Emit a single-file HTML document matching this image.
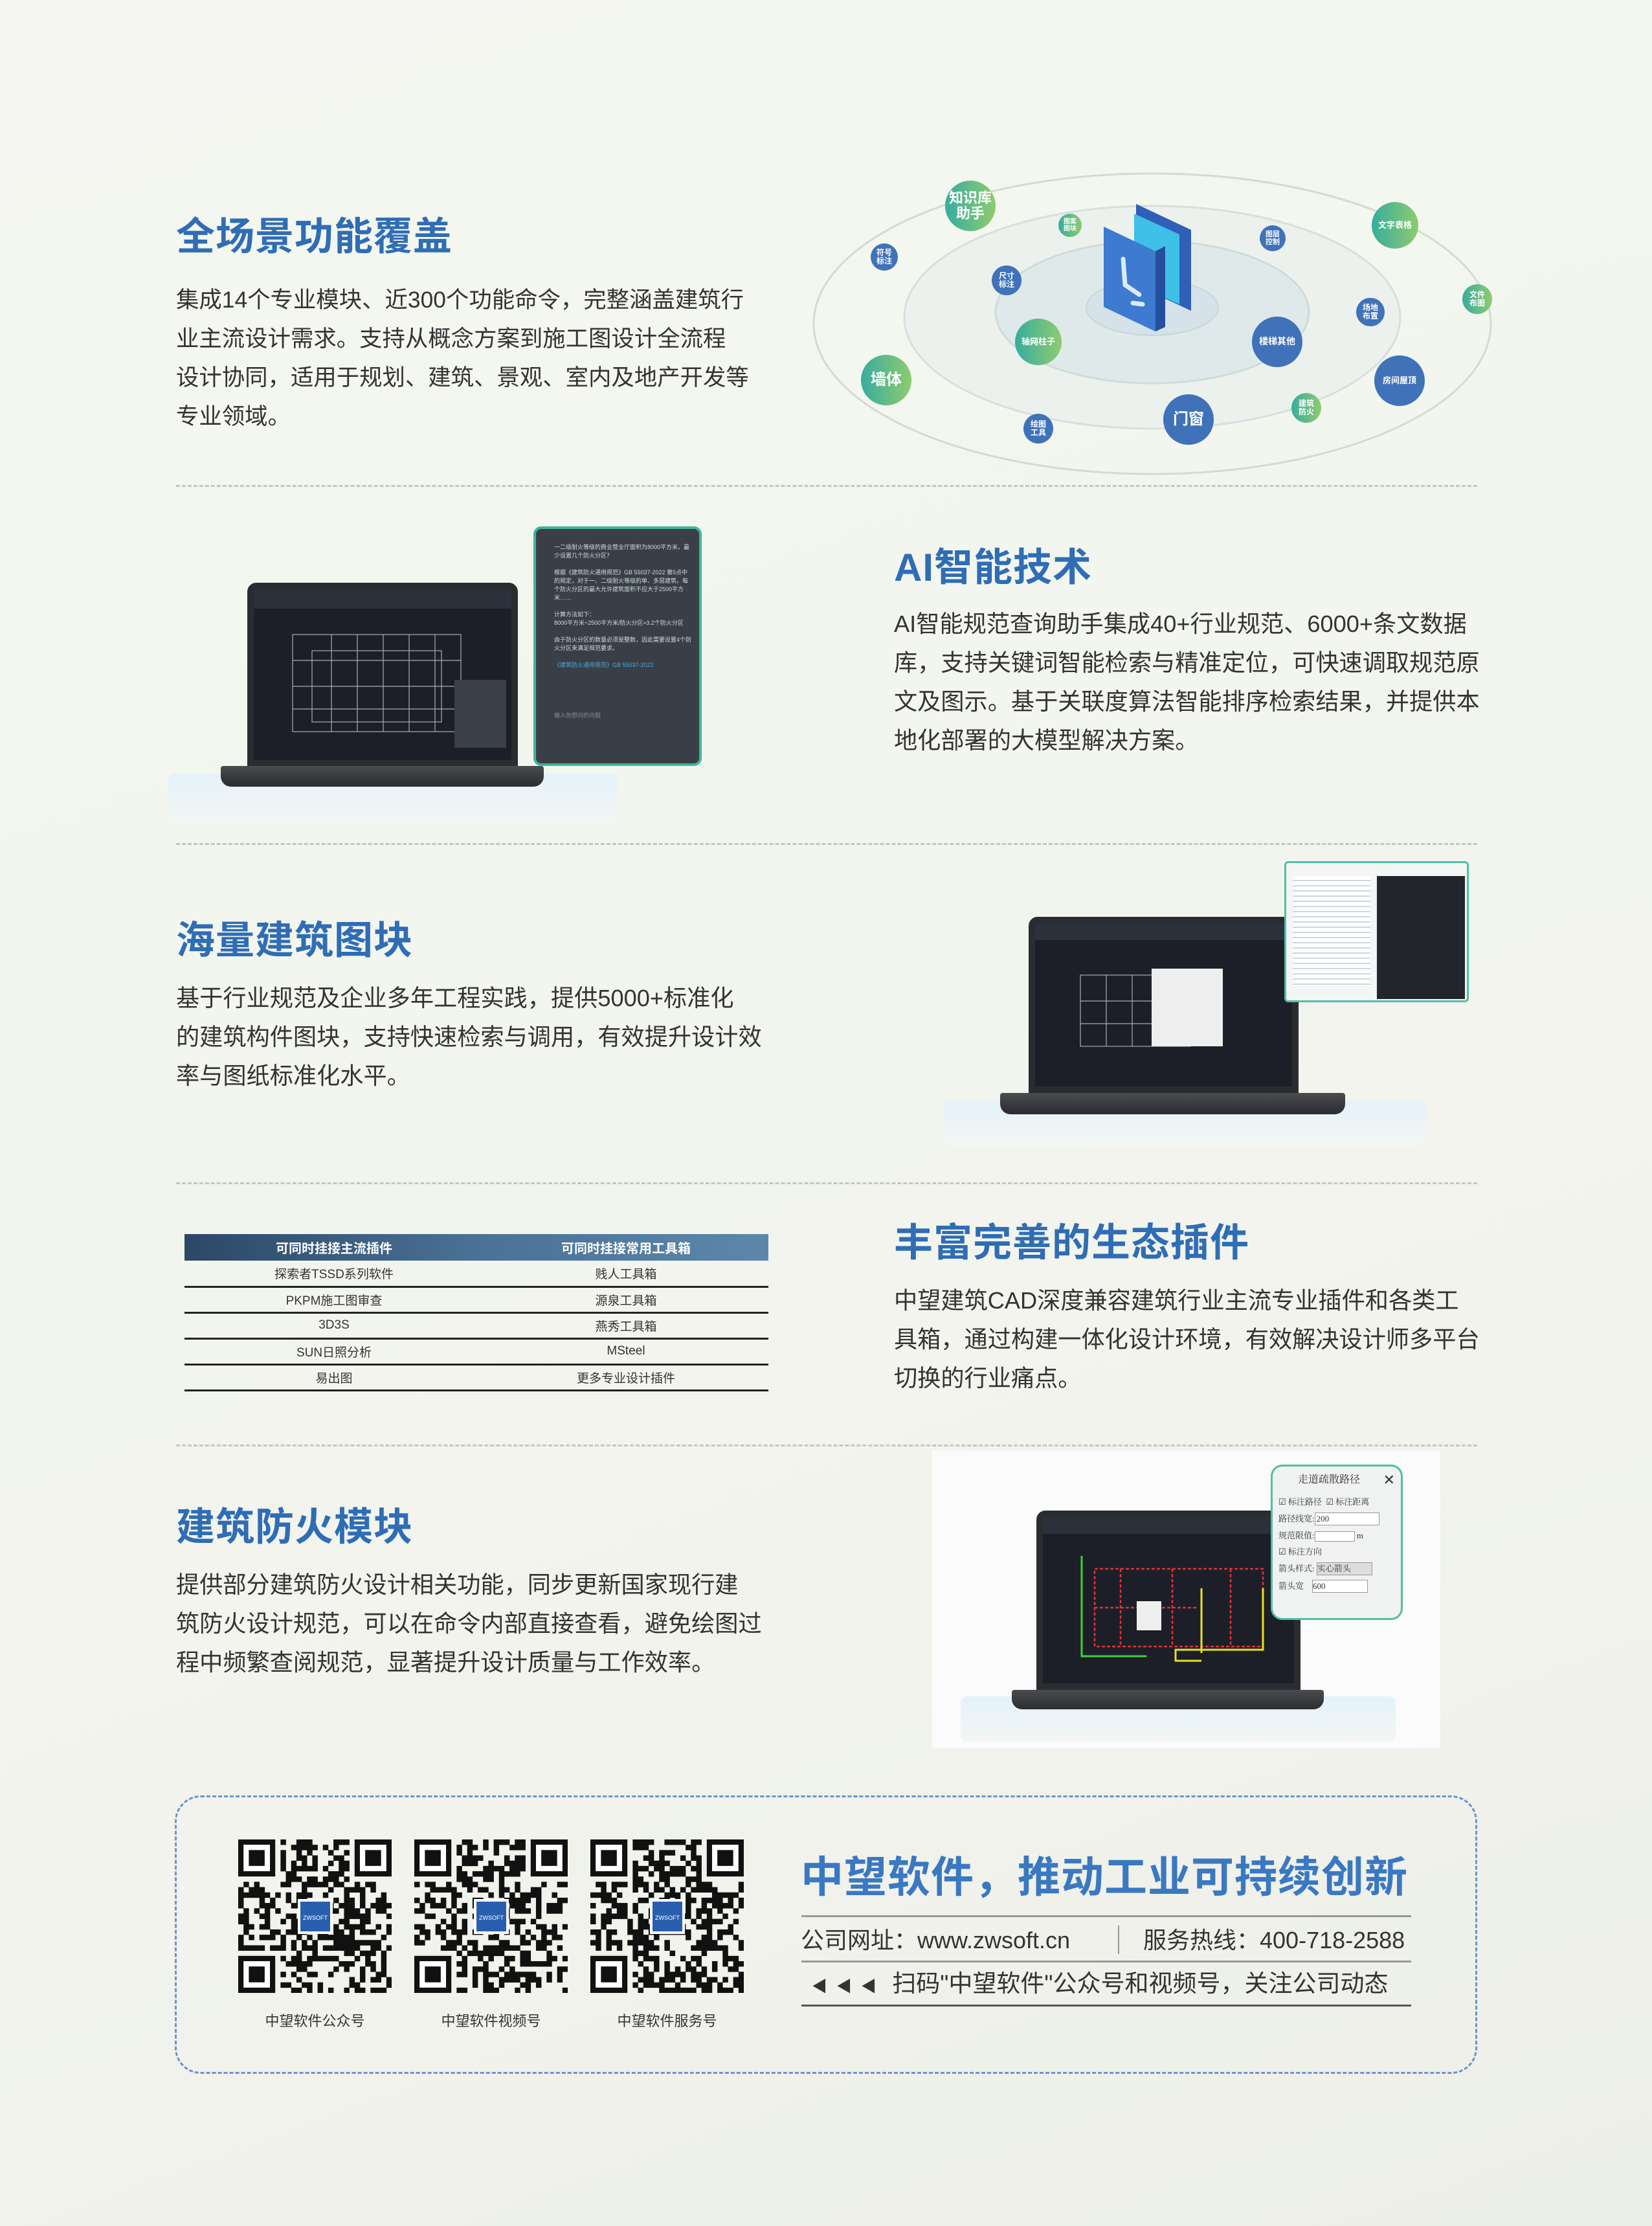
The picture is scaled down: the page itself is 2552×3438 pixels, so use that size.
<!DOCTYPE html>
<html><head><meta charset="utf-8">
<style>
*{margin:0;padding:0;box-sizing:border-box}
body{width:2552px;height:3438px;position:relative;overflow:hidden;font-family:"Liberation Sans","Noto Sans CJK SC",sans-serif;
background:linear-gradient(160deg,#f5f6f1 0%,#f3f6ef 35%,#f1f3ec 70%,#eceee8 100%);}
.a{position:absolute}
.t{position:absolute;color:#2f6db5;font-weight:bold;font-size:60px;line-height:1;white-space:nowrap;letter-spacing:1px}
.p{position:absolute;color:#333;font-size:36.2px;line-height:60px;white-space:nowrap}
.dash{position:absolute;left:272px;width:2010px;height:0;border-top:3px dashed #c4c7c2}
.b{position:absolute;border-radius:50%;color:#fff;display:flex;align-items:center;justify-content:center;text-align:center;font-weight:bold;line-height:1.1}
.bl{background:#3f72b9}
.gr{background:linear-gradient(90deg,#37ad9e,#8ecb6f)}
.scr{position:absolute;background:#1c1f27;border:10px solid #2a2c30;border-radius:14px 14px 0 0}
.base{position:absolute;background:linear-gradient(#4a4c50,#2b2c2f);border-radius:4px 4px 16px 16px}
.plat{position:absolute;background:linear-gradient(#e4f2fa,#f3f6f4);border-radius:10px}
table{border-collapse:collapse}
.dl{margin-top:7px;line-height:18px}
</style></head><body>

<!-- Section 1 -->
<div class="t" style="left:272px;top:336px">全场景功能覆盖</div>
<div class="p" style="left:272px;top:433px;font-size:35.4px">集成14个专业模块、近300个功能命令，完整涵盖建筑行<br>业主流设计需求。支持从概念方案到施工图设计全流程<br>设计协同，适用于规划、建筑、景观、室内及地产开发等<br>专业领域。</div>

<svg class="a" style="left:1240px;top:250px" width="1100" height="500" viewBox="1240 250 1100 500">
<ellipse cx="1780" cy="500" rx="523" ry="232" fill="none" stroke="#d3dbd6" stroke-width="3"/>
<ellipse cx="1780" cy="490" rx="383" ry="172" fill="#ecf1ee" stroke="#d6e0dc" stroke-width="3"/>
<ellipse cx="1780" cy="482" rx="242" ry="110" fill="#e0e9ea" stroke="#cfdcd8" stroke-width="3"/>
<ellipse cx="1780" cy="475" rx="102" ry="43" fill="#d5e2ea" stroke="#c6d8d4" stroke-width="2"/>
<polygon points="1755,315 1840,355 1840,480 1755,440" fill="#2f5fb7"/>
<polygon points="1752,330 1822,362 1822,470 1752,438" fill="#3ec0e8"/>
<polygon points="1705,350 1785,388 1785,512 1705,474" fill="#3d7ad0"/>
<polygon points="1785,388 1800,380 1800,505 1785,512" fill="#244f9e"/>
<path d="M1735,400 L1738,440 L1760,455 M1750,468 L1765,470" stroke="#d9ecfa" stroke-width="7" fill="none" stroke-linecap="round"/>
</svg>
<div class="b gr" style="left:1460px;top:279px;width:78px;height:78px;font-size:22px">知识库<br>助手</div>
<div class="b gr" style="left:1635px;top:330px;width:36px;height:36px;font-size:10px">图案<br>图块</div>
<div class="b bl" style="left:1345px;top:376px;width:42px;height:42px;font-size:12px">符号<br>标注</div>
<div class="b bl" style="left:1532px;top:410px;width:46px;height:46px;font-size:12px">尺寸<br>标注</div>
<div class="b bl" style="left:1946px;top:348px;width:40px;height:40px;font-size:11px">图层<br>控制</div>
<div class="b gr" style="left:2119px;top:312px;width:72px;height:72px;font-size:13px">文字表格</div>
<div class="b gr" style="left:2259px;top:439px;width:46px;height:46px;font-size:12px">文件<br>布图</div>
<div class="b bl" style="left:2095px;top:460px;width:44px;height:44px;font-size:12px">场地<br>布置</div>
<div class="b gr" style="left:1568px;top:492px;width:72px;height:72px;font-size:13px">轴网柱子</div>
<div class="b bl" style="left:1934px;top:489px;width:78px;height:78px;font-size:14px">楼梯其他</div>
<div class="b gr" style="left:1330px;top:548px;width:78px;height:78px;font-size:24px">墙体</div>
<div class="b bl" style="left:2123px;top:549px;width:78px;height:78px;font-size:13px">房间屋顶</div>
<div class="b gr" style="left:1995px;top:607px;width:46px;height:46px;font-size:12px">建筑<br>防火</div>
<div class="b bl" style="left:1797px;top:609px;width:78px;height:78px;font-size:24px">门窗</div>
<div class="b bl" style="left:1581px;top:639px;width:46px;height:46px;font-size:12px">绘图<br>工具</div>

<div class="dash" style="top:749px"></div>

<!-- Section 2 -->
<div class="plat" style="left:260px;top:1195px;width:694px;height:72px"></div>
<div class="scr" style="left:382px;top:900px;width:418px;height:284px">
<svg width="398" height="264"><rect x="0" y="0" width="398" height="30" fill="#2b313b"/>
<g stroke="#aab" stroke-width="1.2" fill="none"><rect x="60" y="70" width="260" height="150"/><rect x="90" y="95" width="200" height="110"/><path d="M60,110H320M60,150H320M60,185H320M120,70V220M160,70V220M200,70V220M240,70V220M280,70V220"/></g>
<rect x="310" y="140" width="80" height="105" fill="#3a3f48"/></svg></div>
<div class="base" style="left:341px;top:1183px;width:499px;height:32px"></div>
<div class="a" style="left:824px;top:813px;width:260px;height:370px;background:#3a3f47;border:4px solid #3fb59a;border-radius:12px;color:#cdd;font-size:9px;line-height:13px;padding:22px 10px 10px 28px">一二级耐火等级的商业营业厅面积为8000平方米，最少设置几个防火分区？<br><br>根据《建筑防火通用规范》GB 55037-2022 第5点中的规定，对于一、二级耐火等级的单、多层建筑，每个防火分区的最大允许建筑面积不应大于2500平方米……<br><br>计算方法如下：<br>8000平方米÷2500平方米/防火分区≈3.2个防火分区<br><br>由于防火分区的数量必须是整数，因此需要设置4个防火分区来满足规范要求。<br><br><span style="color:#4aa8e0">《建筑防火通用规范》GB 55037-2022</span><br><br><br><br><br><br><span style="color:#889">输入你想问的问题</span></div>

<div class="t" style="left:1381px;top:847px">AI智能技术</div>
<div class="p" style="left:1381px;top:934px">AI智能规范查询助手集成40+行业规范、6000+条文数据<br>库，支持关键词智能检索与精准定位，可快速调取规范原<br>文及图示。基于关联度算法智能排序检索结果，并提供本<br>地化部署的大模型解决方案。</div>

<div class="dash" style="top:1302px"></div>

<!-- Section 3 -->
<div class="t" style="left:272px;top:1423px">海量建筑图块</div>
<div class="p" style="left:272px;top:1512px">基于行业规范及企业多年工程实践，提供5000+标准化<br>的建筑构件图块，支持快速检索与调用，有效提升设计效<br>率与图纸标准化水平。</div>
<div class="plat" style="left:1458px;top:1700px;width:745px;height:70px"></div>
<div class="scr" style="left:1589px;top:1416px;width:417px;height:272px">
<svg width="397" height="252"><rect width="397" height="26" fill="#2b313b"/>
<g stroke="#aab" stroke-width="1.2" fill="none"><rect x="70" y="80" width="170" height="110"/><path d="M70,120H240M70,155H240M110,80V190M150,80V190M200,80V190"/></g>
<rect x="180" y="70" width="110" height="120" fill="#eee"/></svg></div>
<div class="base" style="left:1545px;top:1688px;width:533px;height:33px"></div>
<div class="a" style="left:1984px;top:1330px;width:285px;height:218px;background:#f4f6f6;border:3px solid #4fc0a6;border-radius:6px">
<div class="a" style="left:140px;top:20px;width:136px;height:190px;background:#22252b"></div>
<div class="a" style="left:10px;top:20px;width:120px;height:170px;background:repeating-linear-gradient(#fff 0 6px,#cfd6df 6px 8px)"></div></div>

<div class="dash" style="top:1826px"></div>

<!-- Section 4 -->
<table class="a" style="left:285px;top:1906px;width:902px;font-size:19px;color:#333;text-align:center">
<tr style="height:41px;background:linear-gradient(90deg,#2c4866,#4a7196,#5c87ab);color:#fff;font-weight:bold;font-size:20px"><td style="width:462px">可同时挂接主流插件</td><td>可同时挂接常用工具箱</td></tr>
<tr style="height:40px;border-bottom:3px solid #222"><td>探索者TSSD系列软件</td><td>贱人工具箱</td></tr>
<tr style="height:40px;border-bottom:3px solid #222"><td>PKPM施工图审查</td><td>源泉工具箱</td></tr>
<tr style="height:40px;border-bottom:3px solid #222"><td>3D3S</td><td>燕秀工具箱</td></tr>
<tr style="height:40px;border-bottom:3px solid #222"><td>SUN日照分析</td><td>MSteel</td></tr>
<tr style="height:40px;border-bottom:3px solid #222"><td>易出图</td><td>更多专业设计插件</td></tr>
</table>
<div class="t" style="left:1381px;top:1890px">丰富完善的生态插件</div>
<div class="p" style="left:1381px;top:1979px">中望建筑CAD深度兼容建筑行业主流专业插件和各类工<br>具箱，通过构建一体化设计环境，有效解决设计师多平台<br>切换的行业痛点。</div>

<div class="dash" style="top:2231px"></div>

<!-- Section 5 -->
<div class="t" style="left:272px;top:2329px">建筑防火模块</div>
<div class="p" style="left:272px;top:2418px">提供部分建筑防火设计相关功能，同步更新国家现行建<br>筑防火设计规范，可以在命令内部直接查看，避免绘图过<br>程中频繁查阅规范，显著提升设计质量与工作效率。</div>
<div class="a" style="left:1440px;top:2240px;width:785px;height:460px;background:#fafbfa"></div>
<div class="plat" style="left:1484px;top:2620px;width:672px;height:70px"></div>
<div class="scr" style="left:1601px;top:2333px;width:408px;height:277px">
<svg width="388" height="257"><rect width="388" height="26" fill="#2b313b"/>
<g stroke="#e0303a" stroke-width="2.5" fill="none" stroke-dasharray="5 3"><rect x="80" y="80" width="260" height="120"/><path d="M80,140H240M120,80V200M200,80V200M290,80V200"/></g>
<g stroke="#40d040" stroke-width="3" fill="none"><path d="M60,60V215H160"/></g>
<g stroke="#e8e020" stroke-width="3" fill="none"><path d="M245,110V210M340,110V205H205V222H245"/></g>
<rect x="145" y="130" width="38" height="45" fill="#eee"/></svg></div>
<div class="base" style="left:1563px;top:2610px;width:482px;height:30px"></div>
<div class="a" style="left:1963px;top:2262px;width:204px;height:240px;background:#f0f1f1;border:3px solid #4fc0a6;border-radius:18px;font-family:'Liberation Serif','Noto Serif CJK SC',serif;font-size:13px;color:#333;padding:10px 9px;overflow:hidden">
<div style="font-size:16px;margin-left:30px;line-height:22px">走道疏散路径<span style="float:right;font-size:22px">✕</span></div>
<div class="dl" style="margin-top:14px">☑ 标注路径 &nbsp;☑ 标注距离</div>
<div class="dl">路径线宽:<span style="display:inline-block;width:100px;border:1px solid #999;background:#fff;padding-left:2px">200</span></div>
<div class="dl">规范限值:<span style="display:inline-block;width:62px;height:16px;border:1px solid #999;background:#fff;vertical-align:middle"></span> m</div>
<div class="dl">☑ 标注方向</div>
<div class="dl">箭头样式: <span style="display:inline-block;width:86px;border:1px solid #999;background:#ddd">实心箭头</span></div>
<div class="dl">箭头宽 &nbsp;&nbsp;&nbsp;<span style="display:inline-block;width:86px;border:1px solid #999;background:#fff">600</span></div></div>

<!-- Footer -->
<div class="a" style="left:270px;top:2773px;width:2012px;height:430px;border:3px dashed #6a94cc;border-radius:40px"></div>
<svg id="q1" class="a" style="left:368px;top:2841px" width="237" height="237"></svg>
<svg id="q2" class="a" style="left:640px;top:2841px" width="237" height="237"></svg>
<svg id="q3" class="a" style="left:912px;top:2841px" width="237" height="237"></svg>
<div class="a" style="left:368px;top:3104px;width:237px;text-align:center;font-size:22px;color:#333">中望软件公众号</div>
<div class="a" style="left:640px;top:3104px;width:237px;text-align:center;font-size:22px;color:#333">中望软件视频号</div>
<div class="a" style="left:912px;top:3104px;width:237px;text-align:center;font-size:22px;color:#333">中望软件服务号</div>

<div class="a" style="left:1237px;top:2866px;font-size:66px;font-weight:bold;color:#3a78c2;white-space:nowrap;line-height:1;letter-spacing:1px">中望软件，推动工业可持续创新</div>
<div class="a" style="left:1238px;top:2958px;width:942px;border-top:3px solid #999"></div>
<div class="a" style="left:1237px;top:2972px;font-size:36px;color:#333;white-space:nowrap;line-height:50px">公司网址：www.zwsoft.cn</div>
<div class="a" style="left:1727px;top:2974px;height:44px;border-left:2px solid #999"></div>
<div class="a" style="left:1766px;top:2972px;font-size:36px;color:#333;white-space:nowrap;line-height:50px">服务热线：400-718-2588</div>
<div class="a" style="left:1238px;top:3028px;width:942px;border-top:3px solid #999"></div>
<div class="a" style="left:1254px;top:3039px;font-size:37px;color:#333;white-space:nowrap;line-height:50px"><span style="font-size:24px;letter-spacing:14px">◀◀◀</span> 扫码"中望软件"公众号和视频号，关注公司动态</div>
<div class="a" style="left:1238px;top:3096px;width:942px;border-top:3px solid #555"></div>

<script>
function qr(id,seed){var s=seed,n=29,c=237/n,o='';
function r(){s=(s*16807)%2147483647;return s/2147483647;}
function fin(x,y){o+='<rect x="'+(x*c)+'" y="'+(y*c)+'" width="'+(7*c)+'" height="'+(7*c)+'" fill="#111"/><rect x="'+((x+1)*c)+'" y="'+((y+1)*c)+'" width="'+(5*c)+'" height="'+(5*c)+'" fill="#fff"/><rect x="'+((x+2)*c)+'" y="'+((y+2)*c)+'" width="'+(3*c)+'" height="'+(3*c)+'" fill="#111"/>';}
for(var i=0;i<n;i++)for(var j=0;j<n;j++){if((i<8&&j<8)||(i<8&&j>n-9)||(i>n-9&&j<8))continue;if(r()<0.5)o+='<rect x="'+(j*c)+'" y="'+(i*c)+'" width="'+(c+0.3)+'" height="'+(c+0.3)+'" fill="#111"/>';}
fin(0,0);fin(n-7,0);fin(0,n-7);
o+='<rect x="92" y="92" width="54" height="54" fill="#fff"/><rect x="96" y="96" width="46" height="46" fill="#2a5fb0"/><text x="119" y="124" font-size="9" fill="#fff" text-anchor="middle" font-family="Liberation Sans">ZWSOFT</text>';
document.getElementById(id).innerHTML=o;}
qr('q1',12345);qr('q2',67890);qr('q3',24680);
</script>
</body></html>
